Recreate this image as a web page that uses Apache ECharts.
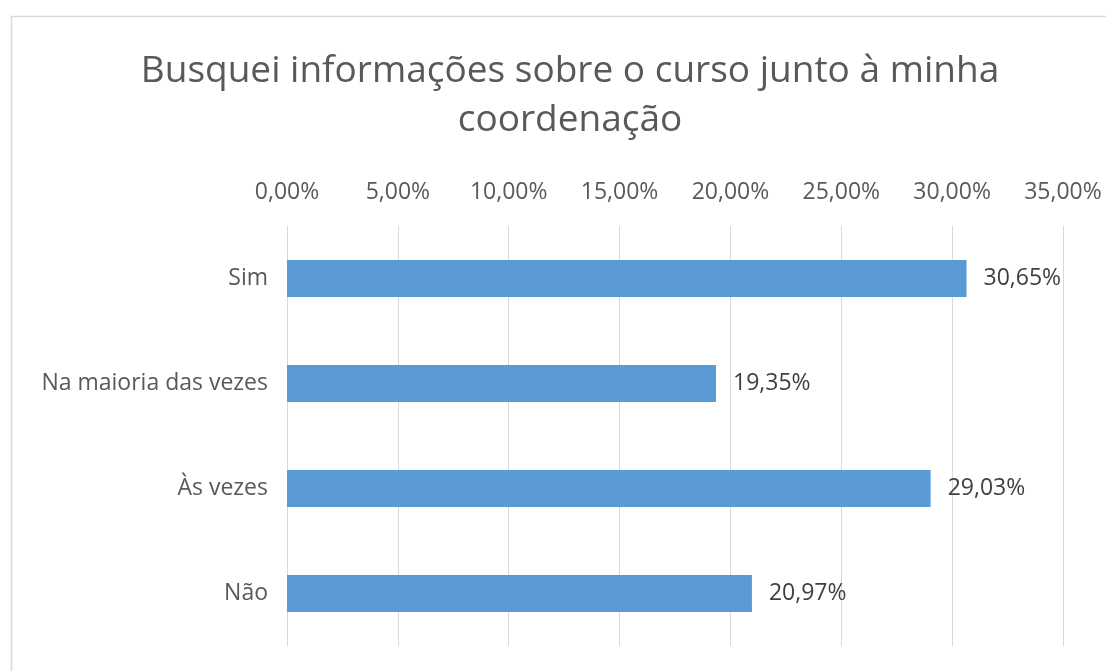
<!DOCTYPE html>
<html><head><meta charset="utf-8">
<script src="https://cdn.jsdelivr.net/npm/echarts@6/dist/echarts.min.js"></script>
<style>html,body{margin:0;padding:0;background:#fff}#c{width:1106px;height:671px}</style>
</head><body><div id="c"></div>
<script>
const titleText = 'Busquei informações sobre o curso junto à minha\ncoordenação';
const categories = ['Sim', 'Na maioria das vezes', 'Às vezes', 'Não'];
const values = [30.65, 19.35, 29.03, 20.97];
const axisMin = 0, axisMax = 35, axisStep = 5;

const chart = echarts.init(document.getElementById('c'));
const fmt = v => v.toFixed(2).replace('.', ',') + '%';
chart.setOption({
  animation: false,
  backgroundColor: '#fff',
  graphic: [{
    type: 'rect', left: 9, top: 14, shape: {width: 1200, height: 800},
    style: {fill: 'none', stroke: '#d9d9d9', lineWidth: 1.5}
  }],
  title: {
    text: titleText, left: 565, top: 42, textAlign: 'center',
    textStyle: {fontFamily: 'Open Sans', fontWeight: 'normal', fontSize: 37, color: '#595959', lineHeight: 49}
  },
  grid: {left: 287, right: 43, top: 226, bottom: 25},
  xAxis: {
    type: 'value', position: 'top', min: axisMin, max: axisMax, interval: axisStep,
    axisLine: {show: false}, axisTick: {show: false},
    axisLabel: {formatter: fmt, fontFamily: 'Open Sans', fontSize: 23, color: '#595959', margin: 22},
    splitLine: {lineStyle: {color: '#d9d9d9', width: 1}}
  },
  yAxis: {
    type: 'category', data: categories, inverse: true,
    axisLine: {show: false}, axisTick: {show: false},
    axisLabel: {fontFamily: 'Open Sans', fontSize: 23, color: '#595959', margin: 19}
  },
  series: [{
    type: 'bar', data: values, barWidth: 37,
    itemStyle: {color: '#5b9bd5'},
    label: {show: true, position: 'right', distance: 17, formatter: p => fmt(p.value),
      fontFamily: 'Open Sans', fontSize: 23, color: '#404040'}
  }]
});
</script></body></html>
